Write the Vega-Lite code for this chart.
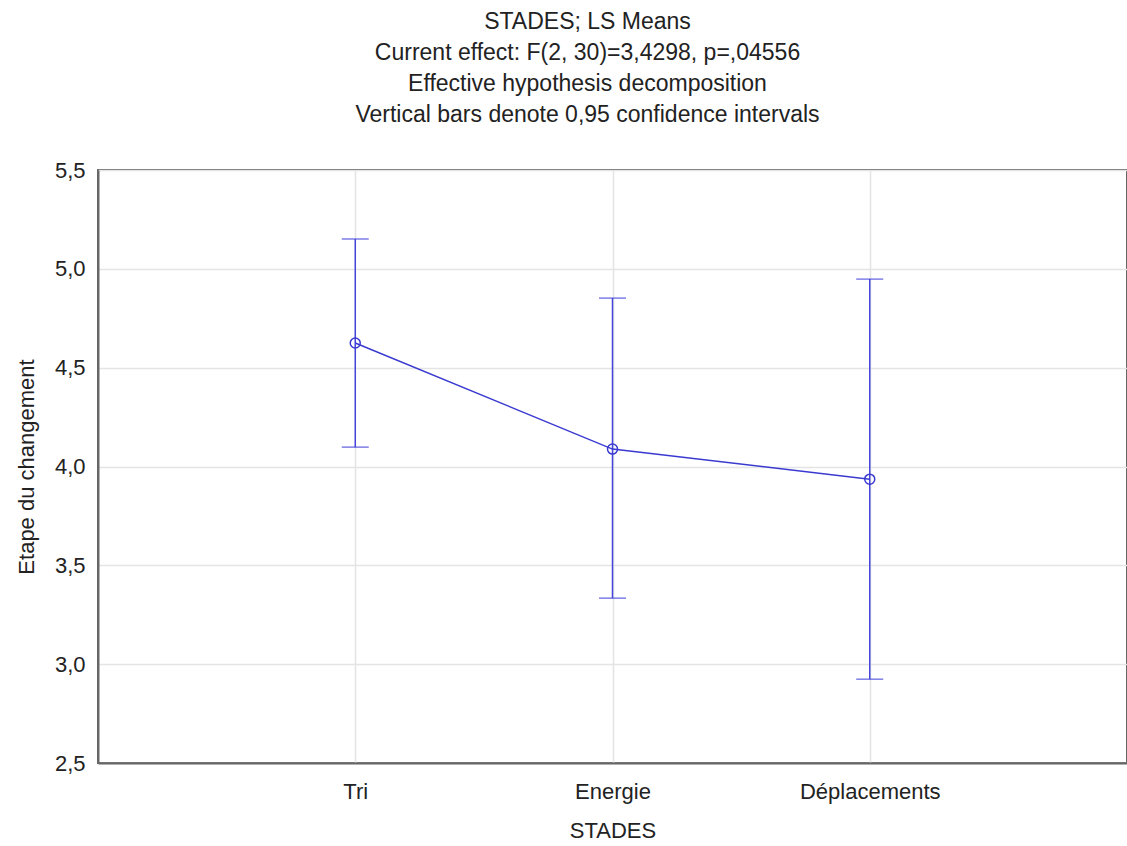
{
  "$schema": "https://vega.github.io/schema/vega-lite/v6.json",
  "autosize": {"type": "none"},
  "padding": {"left": 98, "top": 170, "right": 0, "bottom": 83},
  "width": 1029,
  "height": 593,
  "background": "white",
  "title": {
    "text": ["STADES; LS Means", "Current effect: F(2, 30)=3,4298, p=,04556", "Effective hypothesis decomposition", "Vertical bars denote 0,95 confidence intervals"],
    "font": "Liberation Sans",
    "fontSize": 23,
    "fontWeight": "normal",
    "color": "#222222",
    "lineHeight": 31,
    "anchor": "middle",
    "dx": -25,
    "offset": 32
  },
  "config": {
    "view": {"stroke": "#666666", "strokeWidth": 2},
    "axis": {
      "labelFont": "Liberation Sans",
      "titleFont": "Liberation Sans",
      "labelColor": "#222222",
      "titleColor": "#222222",
      "labelFontSize": 22,
      "titleFontSize": 22,
      "titleFontWeight": "normal",
      "gridColor": "#e4e4e4",
      "gridWidth": 1.5,
      "domainColor": "#666666",
      "domainWidth": 2,
      "ticks": false
    }
  },
  "data": {
    "values": [
      {"stade": "Tri", "mean": 4.625, "lower": 4.098, "upper": 5.151},
      {"stade": "Energie", "mean": 4.088, "lower": 3.334, "upper": 4.852},
      {"stade": "Déplacements", "mean": 3.936, "lower": 2.924, "upper": 4.948}
    ]
  },
  "encoding": {
    "x": {
      "field": "stade",
      "type": "ordinal",
      "sort": ["Tri", "Energie", "Déplacements"],
      "scale": {"type": "point", "padding": 1},
      "axis": {"title": "STADES", "labelAngle": 0, "labelPadding": 18, "titlePadding": 18, "grid": true}
    }
  },
  "layer": [
    {
      "mark": {"type": "rule", "color": "#4646dc", "strokeWidth": 1.5},
      "encoding": {
        "y": {
          "field": "lower",
          "type": "quantitative",
          "scale": {"domain": [2.5, 5.5], "nice": false, "zero": false},
          "axis": {"title": "Etape du changement", "values": [2.5, 3, 3.5, 4, 4.5, 5, 5.5], "format": ".1f", "labelExpr": "replace(datum.label, '.', ',')", "labelPadding": 13, "titlePadding": 16, "grid": true}
        },
        "y2": {"field": "upper"}
      }
    },
    {
      "mark": {"type": "tick", "color": "#4646dc", "size": 27, "thickness": 1.5, "orient": "horizontal"},
      "encoding": {"y": {"field": "lower", "type": "quantitative"}}
    },
    {
      "mark": {"type": "tick", "color": "#4646dc", "size": 27, "thickness": 1.5, "orient": "horizontal"},
      "encoding": {"y": {"field": "upper", "type": "quantitative"}}
    },
    {
      "mark": {"type": "line", "color": "#3a3ad0", "strokeWidth": 1.5},
      "encoding": {"y": {"field": "mean", "type": "quantitative"}}
    },
    {
      "mark": {"type": "point", "filled": false, "color": "#3a3ad0", "size": 100, "strokeWidth": 1.5, "opacity": 1},
      "encoding": {"y": {"field": "mean", "type": "quantitative"}}
    }
  ]
}
